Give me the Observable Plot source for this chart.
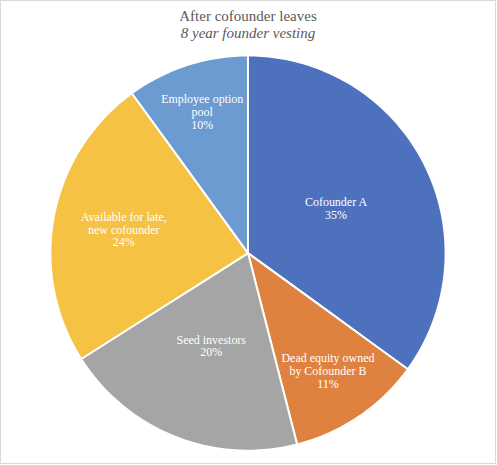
<!DOCTYPE html>
<html>
<head>
<meta charset="utf-8">
<script src="https://cdn.jsdelivr.net/npm/d3@7"></script>
<script src="https://cdn.jsdelivr.net/npm/@observablehq/plot@0.6"></script>
<style>
  body { margin: 0; background: white; }
  #frame {
    position: relative; width: 496px; height: 464px;
    border: 1px solid #d9d9d9; box-sizing: border-box;
    font-family: "Liberation Serif", serif; color: #595959;
  }
  #title { position: absolute; top: 7px; width: 100%; text-align: center; font-size: 15px; line-height: 17px; }
  #title i { display: block; }
  #chart { position: absolute; top: 52px; left: -1px; }
</style>
</head>
<body>
<div id="frame">
  <div id="title">After cofounder leaves<i>8 year founder vesting</i></div>
  <div id="chart"></div>
</div>
<script>
// ownership after the cofounder leaves (percent)
const owners = ["Cofounder A", "Dead equity owned\nby Cofounder B", "Seed investors", "Available for late,\nnew cofounder", "Employee option\npool"];
const shares = [35, 11, 20, 24, 10];
const colors = ["#4e71be", "#e0823f", "#a5a5a5", "#f6c243", "#6c9bd2"];

// how far out each label sits (fraction of radius), like the excel chart
const labelRadius = [0.50, 0.72, 0.505, 0.64, 0.75];

// slices as polygons around the north pole; the polar projection turns them into a pie
// angle t (clockwise from 12 o'clock) -> longitude 180 - t
const total = d3.sum(shares);
let acc = 0;
const slices = owners.map((name, i) => {
  const a0 = acc / total * 360;
  acc += shares[i];
  const a1 = acc / total * 360;
  const ring = [[0, 90]];
  for (let t = a0; t < a1; t += 1) ring.push([180 - t, 0]);
  ring.push([180 - a1, 0], [0, 90]);
  return {
    type: "Feature",
    properties: {name, share: shares[i], mid: (a0 + a1) / 2, r: labelRadius[i]},
    geometry: {type: "Polygon", coordinates: [ring]}
  };
});

const chart = Plot.plot({
  width: 496,
  height: 400,
  margin: 0,
  projection: {
    type: "azimuthal-equidistant",
    rotate: [0, -90],
    domain: d3.geoCircle().center([0, 90]).radius(90).precision(1)(),
    inset: 2
  },
  color: {domain: owners, range: colors},
  marks: [
    Plot.geo(slices, {fill: d => d.properties.name, stroke: "white", strokeWidth: 2}),
    Plot.text(slices, {
      x: d => 180 - d.properties.mid,
      y: d => 90 - 90 * d.properties.r,
      text: d => `${d.properties.name}\n${d.properties.share}%`,
      fill: "white",
      fontSize: 12,
      lineHeight: 1.08
    })
  ],
  style: {fontFamily: "Liberation Serif", background: "transparent"}
});
d3.select("#chart").append(() => chart);
</script>
</body>
</html>
